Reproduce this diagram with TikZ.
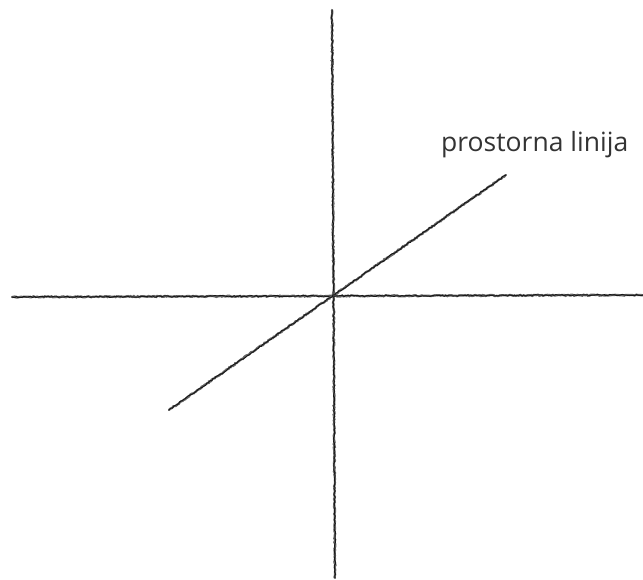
\documentclass[tikz,border=0pt]{standalone}
\usepackage{fontspec}
\setmainfont{Open Sans}
\usetikzlibrary{decorations.pathmorphing}
\tikzset{
  sketchline/.style={line width=2.2pt, black!60, line cap=round,
    decorate, decoration={random steps, segment length=1.5pt, amplitude=0.6pt}},
  sketchcore/.style={line width=1pt, black!90, line cap=round,
    decorate, decoration={random steps, segment length=2pt, amplitude=0.7pt}},
  labeltext/.style={font=\fontsize{26.5}{30}\selectfont, text=black!80, inner sep=0pt}
}
\begin{document}
\begin{tikzpicture}[x=1pt, y=-1pt]
    \useasboundingbox (0,0) rectangle (643,580);
    % axis end points
    \coordinate (vtop) at (332,10);
    \coordinate (vbot) at (335,578);
    \coordinate (hleft) at (12,297);
    \coordinate (hright) at (643,295);
    \coordinate (dlow) at (169,410);
    \coordinate (dhigh) at (506,175);

    % vertical and horizontal axes
    \draw[sketchline] (vtop) -- (vbot);
    \draw[sketchcore] (vtop) -- (vbot);
    \draw[sketchline] (hleft) -- (hright);
    \draw[sketchcore] (hleft) -- (hright);
    % space line
    \draw[sketchline] (dlow) -- (dhigh);
    \draw[sketchcore] (dlow) -- (dhigh);

    % label
    \node[labeltext, anchor=base west] (lbl) at (441,152) {prostorna linija};
\end{tikzpicture}
\end{document}
